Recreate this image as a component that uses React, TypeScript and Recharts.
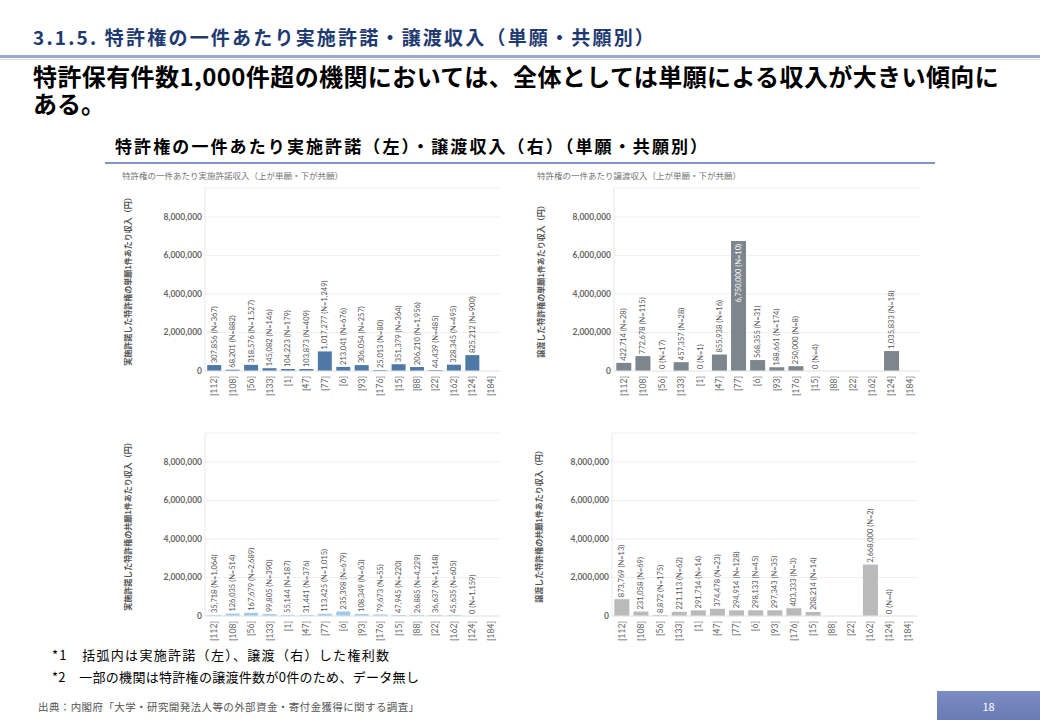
import React from "react";
import { BarChart, Bar, XAxis, YAxis, CartesianGrid, LabelList } from "recharts";

const categories = ["[112]", "[108]", "[56]", "[133]", "[1]", "[47]", "[77]", "[6]", "[93]", "[176]", "[15]", "[88]", "[22]", "[162]", "[124]", "[184]"];

// 単願・実施許諾
const licenseSingleValues = [307856, 68201, 318576, 145082, 104223, 103873, 1017277, 213041, 306054, 25013, 351379, 206210, 44439, 328345, 825212, null];
const licenseSingleCounts = [367, 882, 1527, 146, 179, 409, 1249, 676, 257, 80, 364, 1956, 485, 495, 900, null];

// 単願・譲渡
const transferSingleValues = [422714, 772678, 0, 457357, 0, 855938, 6750000, 568355, 188661, 250000, 0, null, null, null, 1035833, null];
const transferSingleCounts = [28, 115, 17, 28, 1, 16, 10, 31, 174, 8, 4, null, null, null, 18, null];

// 共願・実施許諾
const licenseJointValues = [35718, 126035, 167679, 99805, 55144, 31441, 113425, 235398, 108349, 79673, 47945, 26885, 36637, 45635, 0, null];
const licenseJointCounts = [1064, 514, 2689, 390, 187, 376, 1015, 679, 63, 55, 220, 4229, 1148, 605, 1159, null];

// 共願・譲渡
const transferJointValues = [873769, 231058, 8872, 221113, 291714, 374478, 294914, 298133, 297343, 403333, 208214, null, null, 2668000, 0, null];
const transferJointCounts = [13, 69, 175, 62, 14, 23, 128, 45, 35, 3, 14, null, null, 2, 4, null];

const yTicks = [0, 2000000, 4000000, 6000000, 8000000];

const fmt = (v: number) => v.toLocaleString("en-US");
const JP = "'Noto Sans CJK JP', sans-serif";
const NUM = "Lato, 'Noto Sans', sans-serif";

const CatTick = (props: any) => {
  const { x, y, payload } = props;
  return (
    <text x={x} y={y} transform={`rotate(-90 ${x} ${y})`} textAnchor="end" dominantBaseline="central" fontSize={8.5} fill="#666" fontFamily={NUM}>
      {payload.value}
    </text>
  );
};

const BarLabel = (props: any) => {
  const { x, y, width, height, value } = props;
  if (value == null || x == null || y == null) return null;
  const cx = Number(x) + Number(width) / 2;
  const inside = Number(height) > 60;
  const ty = inside ? Number(y) + 3 : Number(y) - 2;
  return (
    <text x={cx} y={ty} transform={`rotate(-90 ${cx} ${ty})`} textAnchor={inside ? "end" : "start"} dominantBaseline="central" fontSize={7.5} fill={inside ? "#fff" : "#555"} fontFamily={NUM}>
      {value}
    </text>
  );
};

function Panel(p: { values: (number | null)[]; counts: (number | null)[]; color: string; yLabel: string; left: number; top: number; yWidth: number; plotWidth: number }) {
  const data = categories.map((c, i) => ({
    cat: c,
    value: p.values[i],
    label: p.values[i] == null ? null : `${fmt(p.values[i] as number)} (N=${fmt(p.counts[i] as number)})`,
  }));
  return (
    <div style={{ position: "absolute", left: p.left, top: p.top }}>
      <BarChart width={p.yWidth + p.plotWidth + 5} height={218} data={data} margin={{ top: 5, right: 5, bottom: 0, left: 0 }} barCategoryGap="12%">
        <CartesianGrid vertical={false} stroke="#f0f0f0" />
        <XAxis dataKey="cat" interval={0} height={30} tickLine={false} tickSize={0} tickMargin={5} axisLine={{ stroke: "#e8e8e8" }} tick={<CatTick />} />
        <YAxis
          domain={[0, 9500000]}
          ticks={yTicks}
          allowDataOverflow
          width={p.yWidth}
          tickLine={false}
          tickSize={0}
          tickMargin={3}
          axisLine={{ stroke: "#e8e8e8" }}
          tickFormatter={fmt}
          tick={{ fontSize: 8.5, fill: "#666", fontWeight: 700, fontFamily: NUM }}
          label={{ value: p.yLabel, angle: -90, position: "insideLeft", offset: 13, style: { textAnchor: "middle", fontSize: 8, fontWeight: 700, fill: "#555", fontFamily: JP } }}
        />
        <Bar dataKey="value" fill={p.color} isAnimationActive={false} minPointSize={(v: any) => (v > 0 ? 1 : v === 0 ? 0.01 : 0)}>
          <LabelList dataKey="label" content={<BarLabel />} />
        </Bar>
      </BarChart>
    </div>
  );
}

export default function App() {
  return (
    <div style={{ position: "relative", width: 1040, height: 720, background: "#fff", fontFamily: JP, overflow: "hidden" }}>
      <style>{`body{margin:0}`}</style>
      <div style={{ position: "absolute", left: 33, top: 24, fontSize: 19, fontWeight: 700, color: "#1F3A70", letterSpacing: 2.2, whiteSpace: "nowrap", lineHeight: "26px" }}>
        3.1.5. 特許権の一件あたり実施許諾・譲渡収入（単願・共願別）
      </div>
      <div style={{ position: "absolute", left: 0, top: 55, width: 1040, height: 3, background: "#97A9D2" }} />
      <div style={{ position: "absolute", left: 0, top: 59, width: 1040, height: 1, background: "#D3DBEC" }} />
      <div style={{ position: "absolute", left: 33, top: 64, fontSize: 24, fontWeight: 700, color: "#000", lineHeight: "24px", letterSpacing: 0.4, whiteSpace: "nowrap" }}>
        特許保有件数1,000件超の機関においては、全体としては単願による収入が大きい傾向に
      </div>
      <div style={{ position: "absolute", left: 33, top: 91, fontSize: 24, fontWeight: 700, color: "#000", lineHeight: "24px", whiteSpace: "nowrap" }}>
        ある。
      </div>
      <div style={{ position: "absolute", left: 115, top: 133, fontSize: 17, fontWeight: 700, color: "#000", letterSpacing: 2.1, whiteSpace: "nowrap" }}>
        特許権の一件あたり実施許諾（左）・譲渡収入（右）（単願・共願別）
      </div>
      <div style={{ position: "absolute", left: 105, top: 162, width: 830, height: 2, background: "#8096C8" }} />

      <div style={{ position: "absolute", left: 122, top: 169, fontSize: 8.5, color: "#777", whiteSpace: "nowrap" }}>
        特許権の一件あたり実施許諾収入（上が単願・下が共願）
      </div>
      <div style={{ position: "absolute", left: 537, top: 169, fontSize: 8.5, color: "#777", whiteSpace: "nowrap" }}>
        特許権の一件あたり譲渡収入（上が単願・下が共願）
      </div>

      <Panel values={licenseSingleValues} counts={licenseSingleCounts} color="#4E79A7" yLabel="実施許諾した特許権の単願1件あたり収入（円）" left={115} top={183} yWidth={90} plotWidth={295} />
      <Panel values={transferSingleValues} counts={transferSingleCounts} color="#7D858D" yLabel="譲渡した特許権の単願1件あたり収入（円）" left={528} top={183} yWidth={86} plotWidth={306} />
      <Panel values={licenseJointValues} counts={licenseJointCounts} color="#A0CBE8" yLabel="実施許諾した特許権の共願1件あたり収入（円）" left={115} top={428} yWidth={90} plotWidth={295} />
      <Panel values={transferJointValues} counts={transferJointCounts} color="#BABABA" yLabel="譲渡した特許権の共願1件あたり収入（円）" left={526} top={428} yWidth={86} plotWidth={306} />

      <div style={{ position: "absolute", left: 52, top: 645, fontSize: 13, color: "#000", letterSpacing: 1.3, whiteSpace: "nowrap" }}>*1　括弧内は実施許諾（左）、譲渡（右）した権利数</div>
      <div style={{ position: "absolute", left: 52, top: 667, fontSize: 13, color: "#000", letterSpacing: 0.3, whiteSpace: "nowrap" }}>*2　一部の機関は特許権の譲渡件数が0件のため、データ無し</div>
      <div style={{ position: "absolute", left: 38, top: 699, fontSize: 10.5, color: "#555", letterSpacing: 0.4, whiteSpace: "nowrap" }}>出典：内閣府「大学・研究開発法人等の外部資金・寄付金獲得に関する調査」</div>
      <div style={{ position: "absolute", left: 937, top: 691, width: 103, height: 29, background: "linear-gradient(#7B8CC4, #6A7BB4)", color: "#fff", fontSize: 11, display: "flex", alignItems: "center", justifyContent: "center" }}>
        18
      </div>
    </div>
  );
}
